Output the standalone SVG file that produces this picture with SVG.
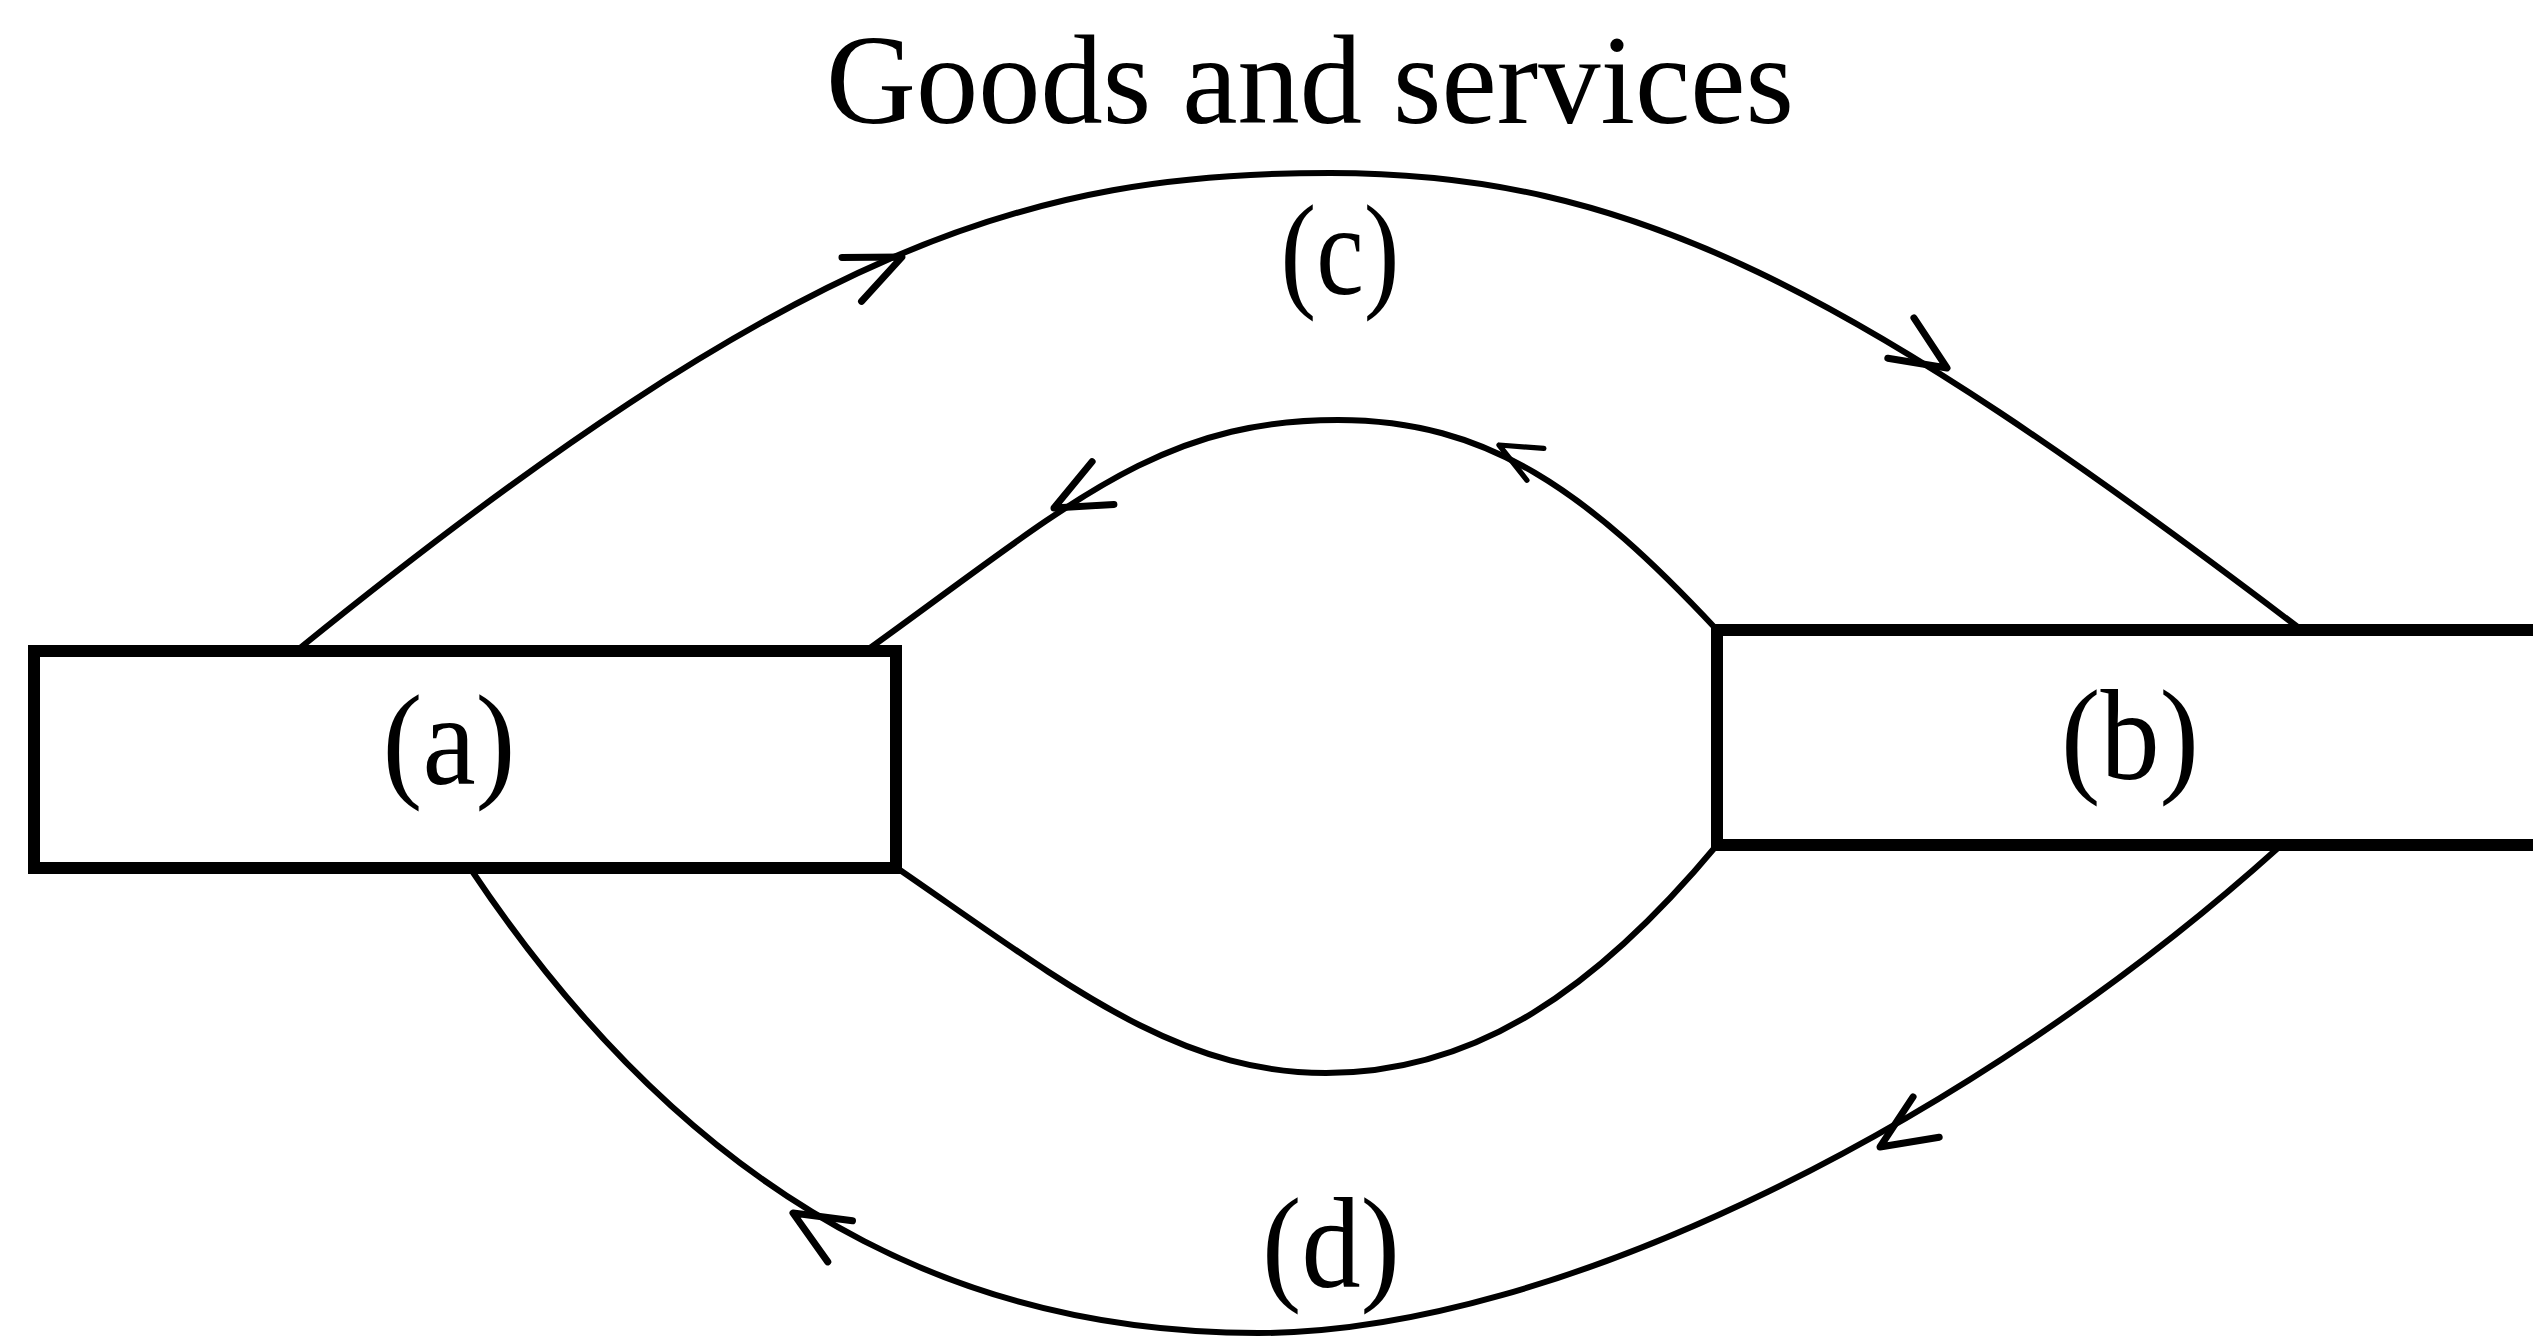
<svg xmlns="http://www.w3.org/2000/svg" xmlns:xlink="http://www.w3.org/1999/xlink" width="2533" height="1341" viewBox="0 0 2533 1341">
  <style>
    .box { fill: #ffffff; stroke: #000000; stroke-width: 12; }
    .flow { fill: none; stroke: #000000; stroke-width: 6; stroke-linecap: round; }
    .head { fill: none; stroke: #000000; stroke-width: 7; stroke-linecap: round; stroke-linejoin: round; }
    .lbl { font-family: "Liberation Serif", "Times New Roman", serif; font-size: 130px; fill: #000000; text-anchor: middle; }
    .title { font-family: "Liberation Serif", "Times New Roman", serif; font-size: 128px; fill: #000000; text-anchor: middle; }
  </style>
  <defs>
    <path id="ah" d="M-55,-24 L0,0 L-55,24"/>
  </defs>
  <rect width="2533" height="1341" fill="#ffffff"/>

  <text class="title" x="1310" y="123" textLength="968" lengthAdjust="spacingAndGlyphs">Goods and services</text>

  <g id="connectors">
    <path class="flow" d="M300,648 C800,243 1030,173 1330,173 C1630,173 1849,286 2299,628"/>
    <path class="flow" d="M870,648 C1070,504 1158,420 1338,420 C1488,420 1587,491 1717,630"/>
    <path class="flow" d="M897,868 C1067,985 1176,1073 1326,1073 C1476,1073 1597,989 1717,845"/>
    <path class="flow" d="M470,868 C720,1243 1008,1333 1258,1333 C1558,1333 1978,1118 2278,848"/>

    <use class="head" xlink:href="#ah" href="#ah" transform="translate(902,257) rotate(-24)"/>
    <use class="head" xlink:href="#ah" href="#ah" transform="translate(1947,368) rotate(33)"/>
    <use class="head" xlink:href="#ah" href="#ah" transform="translate(1054,508) rotate(153)"/>
    <use class="head" xlink:href="#ah" href="#ah" transform="translate(1499,445) rotate(208) scale(0.75)"/>
    <use class="head" xlink:href="#ah" href="#ah" transform="translate(793,1213) rotate(211)"/>
    <use class="head" xlink:href="#ah" href="#ah" transform="translate(1880,1147) rotate(147)"/>
  </g>

  <g id="node-a">
    <rect class="box" x="34" y="651" width="862" height="217"/>
    <text class="lbl" x="449" y="784" textLength="133" lengthAdjust="spacingAndGlyphs">(a)</text>
  </g>

  <g id="node-b">
    <rect class="box" x="1717" y="630" width="900" height="215"/>
    <text class="lbl" x="2130" y="779" textLength="138" lengthAdjust="spacingAndGlyphs">(b)</text>
  </g>

  <g id="label-c">
    <text class="lbl" x="1340" y="294" textLength="119" lengthAdjust="spacingAndGlyphs">(c)</text>
  </g>
  <g id="label-d">
    <text class="lbl" x="1331" y="1287" textLength="138" lengthAdjust="spacingAndGlyphs">(d)</text>
  </g>
</svg>
